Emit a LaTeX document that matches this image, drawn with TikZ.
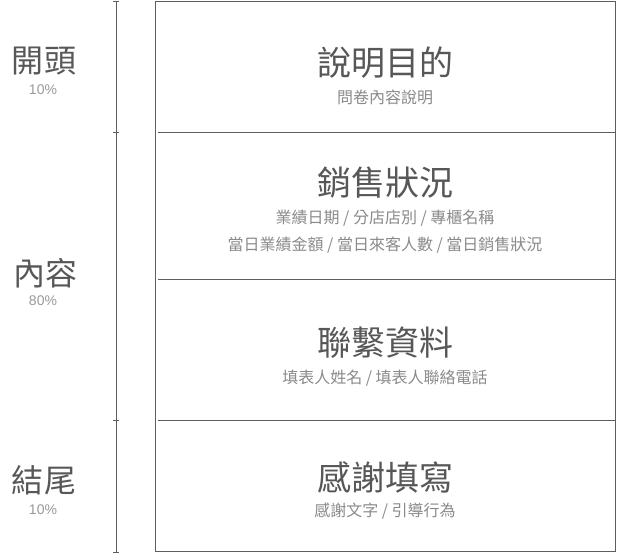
\documentclass[tikz,border=0pt]{standalone}
\usepackage{fontspec}
\setmainfont{Noto Sans CJK TC}
\newfontfamily\pctfont{Liberation Sans}
\definecolor{linec}{HTML}{5E5E5E}
\definecolor{titlec}{HTML}{575757}
\definecolor{subc}{HTML}{8A8A8A}
\definecolor{pctc}{HTML}{999999}
\begin{document}
\begin{tikzpicture}[x=1pt,y=-1pt,
  titletext/.style={font=\fontsize{34}{36}\selectfont, text=titlec, inner sep=0pt, anchor=center},
  subtext/.style={font=\fontsize{16}{18}\selectfont, text=subc, inner sep=0pt, anchor=center},
  sidetext/.style={font=\fontsize{32}{34}\selectfont, text=titlec, inner sep=0pt, anchor=center},
  pcttext/.style={font=\pctfont\fontsize{14}{16}\selectfont, text=pctc, inner sep=0pt, anchor=center},
  framebox/.style={draw=linec, line width=1.2pt},
  axisline/.style={draw=linec, line width=1pt}]
\useasboundingbox (0,0) rectangle (617,554);
% frame and dividers
\draw[framebox] (155.5,1.5) rectangle (615.5,551.5);
\coordinate (d1l) at (158,132.5); \coordinate (d1r) at (615.5,132.5);
\coordinate (d2l) at (158,279.5); \coordinate (d2r) at (615.5,279.5);
\coordinate (d3l) at (158,420.5); \coordinate (d3r) at (615.5,420.5);
\draw[framebox] (d1l) -- (d1r);
\draw[framebox] (d2l) -- (d2r);
\draw[framebox] (d3l) -- (d3r);
% axis
\coordinate (at) at (116,1.5); \coordinate (ab) at (116,552);
\draw[axisline] (at) -- (ab);
\foreach \yy in {1.5,132.5,420.5,552} \draw[axisline] (113,\yy) -- (119,\yy);
% side labels
\node[sidetext] (s1) at (44,61) {開頭};
\node[pcttext] (p1) at (43,90) {10\%};
\node[sidetext] (s2) at (45,273) {內容};
\node[pcttext] (p2) at (43,301) {80\%};
\node[sidetext] (s3) at (44,480) {結尾};
\node[pcttext] (p3) at (43,510) {10\%};
% section texts
\node[titletext] (t1) at (385,63) {說明目的};
\node[subtext] (u1) at (385,97) {問卷內容說明};
\node[titletext] (t2) at (385,183) {銷售狀況};
\node[subtext] (u2) at (385,218) {業績日期 / 分店店別 / 專櫃名稱};
\node[subtext] (u3) at (385,245) {當日業績金額 / 當日來客人數 / 當日銷售狀況};
\node[titletext] (t3) at (385,343) {聯繫資料};
\node[subtext] (u4) at (385,378) {填表人姓名 / 填表人聯絡電話};
\node[titletext] (t4) at (385,477) {感謝填寫};
\node[subtext] (u5) at (385,511) {感謝文字 / 引導行為};
\end{tikzpicture}
\end{document}
